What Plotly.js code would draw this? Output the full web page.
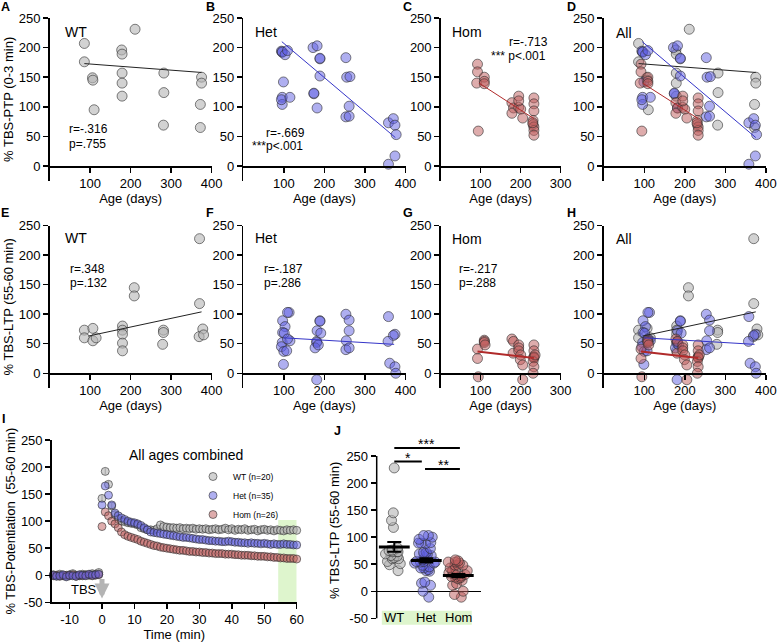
<!DOCTYPE html>
<html><head><meta charset="utf-8">
<script src="https://cdn.plot.ly/plotly-3.0.1.min.js"></script>
<style>html,body{margin:0;padding:0;background:#fff}#chart{width:777px;height:642px}</style>
</head><body><div id="chart"></div>
<script>
// ---------------- DATA ----------------
// A: WT, TBS-PTP (0-3 min)
const ageWT_ptp = [86, 86, 106, 107, 110, 178, 179, 179, 179, 179, 211, 282, 282, 281, 375, 375, 372, 372];
const ptpWT     = [207, 176, 149, 145, 95, 196, 189, 157, 140, 118, 231, 157, 124, 69, 150, 140, 104, 65];
// B: Het, TBS-PTP
const ageHet_ptp = [94, 96, 96, 103, 109, 99, 96, 96, 94, 115, 172, 182, 189, 189, 189, 174, 174, 182, 253, 255, 263, 261, 253, 261, 358, 370, 374, 377, 374, 358];
const ptpHet     = [194, 192, 193, 188, 195, 142, 116, 104, 112, 116, 200, 203, 181, 182, 152, 122, 123, 98, 183, 150, 151, 101, 83, 84, 73, 80, 69, 53, 17, 3];
// C: Hom, TBS-PTP
const ageHom_ptp = [92, 92, 90, 109, 109, 109, 94, 195, 178, 182, 178, 195, 200, 205, 195, 233, 233, 233, 231, 231, 233, 233, 233, 230];
const ptpHom     = [172, 159, 140, 150, 143, 139, 59, 118, 107, 98, 89, 99, 96, 81, 110, 115, 105, 93, 77, 70, 66, 60, 52, 73];
// E: WT, TBS-LTP (55-60 min)
const ageWT_ltp = [86, 86, 107, 107, 115, 180, 180, 180, 180, 180, 209, 209, 281, 281, 279, 370, 370, 378, 369, 380];
const ltpWT     = [73, 60, 76, 55, 60, 80, 73, 66, 51, 38, 145, 131, 73, 69, 49, 228, 118, 75, 62, 65];
// F: Het, TBS-LTP
const ageHet_ltp = [97, 113, 109, 103, 97, 101, 96, 94, 100, 107, 99, 115, 109, 181, 181, 177, 185, 189, 189, 182, 191, 181, 253, 261, 261, 254, 253, 261, 358, 374, 370, 357, 361, 374, 376];
const ltpHet     = [89, 103, 103, 79, 69, 68, 52, 45, 37, 38, 15, 55, 58, 54, 52, 43, 48, 89, 88, 72, 68, -11, 100, 90, 72, 55, 40, 43, 96, 66, 64, 54, 17, 11, 0];
// G: Hom, TBS-LTP
const ageHom_ltp = [92, 92, 94, 109, 109, 109, 111, 178, 182, 181, 195, 195, 195, 200, 199, 205, 205, 233, 233, 233, 233, 233, 231, 233, 231, 236];
const ltpHom     = [41, 25, -6, 56, 54, 52, 48, 58, 54, 34, 48, 43, 38, 31, 23, 14, -11, 48, 38, 28, 27, 26, 20, 11, 0, 31];

// regression lines (end points)
const fitPtpWT_x = [86, 375],  fitPtpWT_y = [173, 158];
const fitPtpHet_x = [95, 375], fitPtpHet_y = [210, 48];
const fitPtpHom_x = [96, 233], fitPtpHom_y = [140, 80];
const fitLtpWT_x = [96, 375],  fitLtpWT_y = [63, 104];
const fitLtpHet_x = [100, 372], fitLtpHet_y = [60, 49];
const fitLtpHom_x = [92, 233], fitLtpHom_y = [37, 26];

const statsText = {
  A: ['r=-.316', 'p=.755'], B: ['r=-.669', '***p&lt;.001'], C: ['r=-.713', '*** p&lt;.001'],
  E: ['r=.348', 'p=.132'], F: ['r=-.187', 'p=.286'], G: ['r=-.217', 'p=.288']
};

// I: time course
const timeMin = [-15,-14,-13,-12,-11,-10,-9,-8,-7,-6,-5,-4,-3,-2,-1,
  0,1,2,3,4,5,6,7,8,9,10,11,12,13,14,15,16,17,18,19,20,21,22,23,24,25,26,27,28,29,30,
  31,32,33,34,35,36,37,38,39,40,41,42,43,44,45,46,47,48,49,50,51,52,53,54,55,56,57,58,59,60];
const potWT = [1,-1,2,0,-2,1,3,0,-1,2,1,0,3,2,5,
  142,192,168,128,112,104,100,99,97,96,95,93,88,86,84,84,83,86,93,90,89,88,88,87,88,86,87,86,87,85,86,
  85,86,84,85,86,84,85,87,84,86,83,85,84,86,83,84,85,82,84,85,83,84,82,84,83,82,84,83,84,83];
const potHet = [0,-2,-1,1,-3,0,-1,-2,1,0,-1,2,0,1,2,
  130,165,148,130,115,110,106,103,100,98,97,95,92,88,84,80,79,78,77,76,75,74,73,72,71,70,70,69,68,67,66,
  66,65,64,64,63,63,62,62,63,62,61,61,60,60,59,60,59,59,58,59,58,57,58,57,57,58,57,57,56,56];
const potHom = [-1,0,-2,-1,0,-1,1,-2,0,-1,0,1,-1,0,1,
  90,117,110,100,95,88,80,75,72,70,68,66,63,61,59,57,55,54,52,51,50,49,48,47,46,46,45,44,44,43,43,
  42,42,41,41,40,40,40,39,39,39,38,38,37,37,37,36,36,35,35,35,34,34,33,33,32,32,31,31,31,30];
const legendNames = ['WT (n=20)', 'Het (n=35)', 'Hom (n=26)'];

// J: group summary
const groups = ['WT', 'Het', 'Hom'];
const meanJ = [82, 57, 29];
const semJ = [9, 4, 3];

// tick values
const ageTicks4 = [100, 200, 300, 400], ageTicks3 = [100, 200, 300];
const yTicksScatter = [0, 50, 100, 150, 200, 250];
const yTicksI = [-50, 0, 50, 100, 150, 200, 250];
const xTicksI = [-10, 0, 10, 20, 30, 40, 50, 60];

// ---------------- STYLE / LAYOUT ----------------
const W = 777, H = 642;
const fx = p => p / W;
const fy = p => 1 - p / H;
const FONT = '"Liberation Sans", Arial, Helvetica, sans-serif';
const fillWT = 'rgba(180,180,180,0.6)', fillHet = 'rgba(95,95,225,0.5)', fillHom = 'rgba(190,90,90,0.5)';
const edge = 'rgba(45,45,45,0.75)';
const lineWT = '#222222', lineHet = '#3535c8', lineHom = '#b02a2a';
const hy = arr => arr.map(v => String(v)); // tick text with a plain hyphen minus

const ax = k => (k === 1 ? '' : String(k));
function pts(x, y, fill, k, size) {
  return {type: 'scatter', mode: 'markers', x: x, y: y, xaxis: 'x' + ax(k), yaxis: 'y' + ax(k),
    marker: {size: size || 10, color: fill, line: {color: edge, width: 0.8}}, showlegend: false, hoverinfo: 'skip'};
}
function fit(x, y, color, k, w) {
  return {type: 'scatter', mode: 'lines', x: x, y: y, xaxis: 'x' + ax(k), yaxis: 'y' + ax(k),
    line: {color: color, width: w || 1}, showlegend: false, hoverinfo: 'skip'};
}

const traces = [
  pts(ageWT_ptp, ptpWT, fillWT, 1), fit(fitPtpWT_x, fitPtpWT_y, lineWT, 1),
  pts(ageHet_ptp, ptpHet, fillHet, 2), fit(fitPtpHet_x, fitPtpHet_y, lineHet, 2),
  pts(ageHom_ptp, ptpHom, fillHom, 3), fit(fitPtpHom_x, fitPtpHom_y, lineHom, 3),
  pts(ageWT_ptp, ptpWT, fillWT, 4), pts(ageHet_ptp, ptpHet, fillHet, 4), pts(ageHom_ptp, ptpHom, fillHom, 4),
  fit(fitPtpWT_x, fitPtpWT_y, lineWT, 4), fit(fitPtpHet_x, fitPtpHet_y, lineHet, 4), fit(fitPtpHom_x, fitPtpHom_y, lineHom, 4),
  pts(ageWT_ltp, ltpWT, fillWT, 5), fit(fitLtpWT_x, fitLtpWT_y, lineWT, 5),
  pts(ageHet_ltp, ltpHet, fillHet, 6), fit(fitLtpHet_x, fitLtpHet_y, lineHet, 6),
  pts(ageHom_ltp, ltpHom, fillHom, 7), fit(fitLtpHom_x, fitLtpHom_y, lineHom, 7, 2),
  pts(ageWT_ltp, ltpWT, fillWT, 8), pts(ageHet_ltp, ltpHet, fillHet, 8), pts(ageHom_ltp, ltpHom, fillHom, 8),
  fit(fitLtpWT_x, fitLtpWT_y, lineWT, 8), fit(fitLtpHet_x, fitLtpHet_y, lineHet, 8), fit(fitLtpHom_x, fitLtpHom_y, lineHom, 8, 2),
];

// I
function tc(y, fill, name, rank) {
  return {type: 'scatter', mode: 'markers', x: timeMin, y: y, xaxis: 'x9', yaxis: 'y9', name: name, legendrank: rank,
    marker: {size: 8, color: fill, line: {color: edge, width: 0.8}}, showlegend: true, hoverinfo: 'skip', cliponaxis: false};
}
const tWT = tc(potWT, fillWT, legendNames[0], 1);
tWT.error_y = {type: 'constant', value: 6, color: '#888', thickness: 1, width: 0};
traces.push(tWT, tc(potHom, fillHom, legendNames[2], 3), tc(potHet, fillHet, legendNames[1], 2));

// J
function jbox(vals, name, fill) {
  return {type: 'box', y: vals, name: name, x0: name, xaxis: 'x10', yaxis: 'y10', boxpoints: 'all', jitter: 1, pointpos: 0,
    width: 0.75, fillcolor: 'rgba(0,0,0,0)', line: {width: 0, color: 'rgba(0,0,0,0)'}, whiskerwidth: 0,
    marker: {size: 10, color: fill, line: {color: edge, width: 0.8}}, showlegend: false, hoverinfo: 'skip'};
}
traces.push(jbox(ltpWT, groups[0], fillWT), jbox(ltpHet, groups[1], fillHet), jbox(ltpHom, groups[2], fillHom));
traces.push({type: 'scatter', mode: 'markers', x: groups, y: meanJ, xaxis: 'x10', yaxis: 'y10', showlegend: false,
  error_y: {type: 'data', array: semJ, color: '#000', thickness: 2, width: 7},
  marker: {symbol: 'line-ew-open', size: 22, color: '#000', line: {color: '#000', width: 3}}, hoverinfo: 'skip'});

const tickfont = {size: 13, color: '#000', family: FONT};
const base = {showline: true, linecolor: '#000', linewidth: 1.5, ticks: 'outside', ticklen: 5, tickwidth: 1.5,
  tickcolor: '#000', tickfont: tickfont, showgrid: false, zeroline: false, fixedrange: true};

const layout = {width: W, height: H, margin: {l: 0, r: 0, t: 0, b: 0}, paper_bgcolor: '#fff', plot_bgcolor: 'rgba(0,0,0,0)',
  font: {family: FONT, color: '#000', size: 13}, showlegend: true,
  legend: {x: fx(193), y: fy(462), xanchor: 'left', yanchor: 'top', bgcolor: 'rgba(0,0,0,0)', font: {size: 8.5, family: FONT},
    tracegroupgap: 0, itemclick: false},
  shapes: [], annotations: []};

const rows = [{top: 18, zero: 166, bot: 180.8}, {top: 225.7, zero: 373.3, bot: 388}];
const cols = [{x0: 49.5, x1: 211.7, max: 400}, {x0: 243.3, x1: 405.5, max: 400}, {x0: 440.7, x1: 560.7, max: 300}, {x0: 603.7, x1: 765.9, max: 400}];
const yTitles = ['% TBS-PTP (0-3 min)', '% TBS-LTP (55-60 min)'];
rows.forEach((r, ri) => cols.forEach((c, ci) => {
  const k = ri * 4 + ci + 1;
  layout['xaxis' + ax(k)] = Object.assign({}, base, {domain: [fx(c.x0), fx(c.x1)], range: [0, c.max], anchor: 'free', position: fy(r.zero),
    tickvals: c.max === 400 ? ageTicks4 : ageTicks3,
    title: {text: 'Age (days)', font: {size: 13}, standoff: 0}});
  const ya = Object.assign({}, base, {domain: [fy(r.bot), fy(r.top)], range: [-25, 250], anchor: 'x' + ax(k),
    tickvals: yTicksScatter});
  if (ci === 0) ya.title = {text: yTitles[ri], font: {size: 13}, standoff: 2};
  layout['yaxis' + ax(k)] = ya;
}));

// I axes
layout.xaxis9 = Object.assign({}, base, {domain: [fx(51.7), fx(296.7)], range: [-15.5, 60], anchor: 'y9',
  tickvals: xTicksI, ticktext: hy(xTicksI), title: {text: 'Time (min)', font: {size: 13}, standoff: 2}});
layout.yaxis9 = Object.assign({}, base, {domain: [fy(602.3), fy(440)], range: [-50, 250], anchor: 'x9',
  tickvals: yTicksI, ticktext: hy(yTicksI), title: {text: '% TBS-Potentiation\u00a0 (55-60 min)', font: {size: 13}, standoff: 2}});
// J axes
layout.xaxis10 = {domain: [fx(376.7), fx(480.7)], range: [-0.55, 2.7], anchor: 'y10', type: 'category', categoryorder: 'array',
  categoryarray: groups, showline: false, ticks: '', showticklabels: false, showgrid: false, zeroline: false, fixedrange: true};
layout.yaxis10 = Object.assign({}, base, {domain: [fy(626.4), fy(434.4)], range: [-65, 290], anchor: 'x10', showline: false,
  zeroline: true, zerolinecolor: '#000', zerolinewidth: 1.5,
  tickvals: yTicksI, ticktext: hy(yTicksI), title: {text: '% TBS-LTP (55-60 min)', font: {size: 13}, standoff: 3}});

// shapes
layout.shapes.push(
  {type: 'rect', xref: 'x9', yref: 'y9', x0: 54.3, x1: 60, y0: -50, y1: 102, fillcolor: 'rgb(222,245,205)', line: {width: 0}, layer: 'below'},
  {type: 'line', xref: 'x10 domain', yref: 'y10', x0: 0, x1: 0, y0: -50, y1: 250, line: {color: '#000', width: 1.5}},
  {type: 'rect', xref: 'x10', yref: 'y10', x0: -0.39, x1: 2.42, y0: -62, y1: -36, fillcolor: 'rgb(222,245,205)', line: {width: 0}, layer: 'below'},
  {type: 'line', xref: 'x10', yref: 'y10', x0: 0, x1: 2.05, y0: 265, y1: 265, line: {color: '#000', width: 2}},
  {type: 'line', xref: 'x10', yref: 'y10', x0: 0, x1: 0.86, y0: 240, y1: 240, line: {color: '#000', width: 2}},
  {type: 'line', xref: 'x10', yref: 'y10', x0: 0.96, x1: 2.05, y0: 226, y1: 226, line: {color: '#000', width: 2}}
);

// annotations
const A = layout.annotations;
function txt(s, x, y, size, xa, bold) {
  A.push({text: bold ? '<b>' + s + '</b>' : s, xref: 'paper', yref: 'paper', x: fx(x), y: fy(y), xanchor: xa || 'center',
    yanchor: 'middle', showarrow: false, font: {size: size, family: FONT, color: '#000'}});
}
[['A', 5, 7], ['B', 210.5, 7], ['C', 407.5, 7], ['D', 571, 7], ['E', 5, 212.5], ['F', 210.5, 212.5], ['G', 407.5, 212.5], ['H', 571, 212.5],
 ['I', 3.5, 418.5], ['J', 337.5, 431]].forEach(p => txt(p[0], p[1], p[2], 12.5, 'center', true));
txt('WT', 75.5, 32, 14); txt('Het', 266, 32, 14); txt('Hom', 466.7, 32, 14); txt('All', 624, 33, 14);
txt('WT', 75.5, 238, 14); txt('Het', 266, 238, 14); txt('Hom', 466.7, 239, 14); txt('All', 624, 239, 14);
txt(statsText.A[0], 66.7, 129.3, 12, 'left'); txt(statsText.A[1], 66.7, 144, 12, 'left');
txt(statsText.B[0], 306.7, 133.3, 12, 'right'); txt(statsText.B[1], 305, 146, 12, 'right');
txt(statsText.C[0], 550, 42, 12, 'right'); txt(statsText.C[1], 548.3, 55.5, 12, 'right');
txt(statsText.E[0], 67.7, 269, 12, 'left'); txt(statsText.E[1], 67.7, 283.3, 12, 'left');
txt(statsText.F[0], 261.7, 269, 12, 'left'); txt(statsText.F[1], 261.7, 283.3, 12, 'left');
txt(statsText.G[0], 456.7, 269, 12, 'left'); txt(statsText.G[1], 456.7, 283.3, 12, 'left');
// I texts
A.push({text: 'All ages combined', xref: 'x9', yref: 'y9', x: 26, y: 222, showarrow: false, font: {size: 14, family: FONT, color: '#000'}});
A.push({text: 'TBS', xref: 'x9', yref: 'y9', x: -5.7, y: -27, showarrow: false, font: {size: 13, family: FONT, color: '#000'}});
A.push({text: '', xref: 'x9', yref: 'y9', x: 0, y: -43, axref: 'x9', ayref: 'y9', ax: 0, ay: -4, showarrow: true,
  arrowhead: 2, arrowsize: 0.6, arrowwidth: 5, arrowcolor: '#b4b4b4'});
// J texts
groups.forEach((g, i) => A.push({text: g, xref: 'x10', yref: 'y10', x: i, y: -49, showarrow: false, font: {size: 13, family: FONT, color: '#000'}}));
A.push({text: '***', xref: 'x10', yref: 'y10', x: 1.0, y: 273, showarrow: false, font: {size: 14, family: FONT, color: '#000'}});
A.push({text: '*', xref: 'x10', yref: 'y10', x: 0.43, y: 246, showarrow: false, font: {size: 14, family: FONT, color: '#000'}});
A.push({text: '**', xref: 'x10', yref: 'y10', x: 1.55, y: 233, showarrow: false, font: {size: 14, family: FONT, color: '#000'}});

Plotly.newPlot('chart', traces, layout, {displayModeBar: false, staticPlot: true});
</script>
</body></html>
